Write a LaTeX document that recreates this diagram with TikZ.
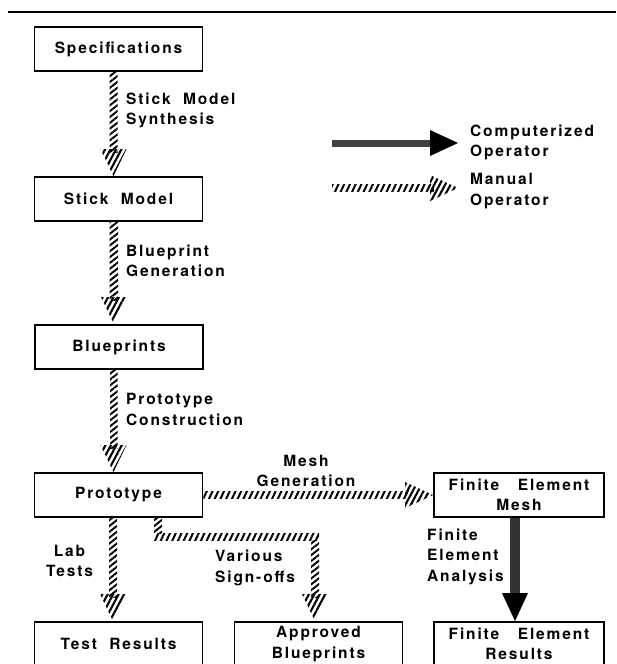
\documentclass[tikz,border=0pt]{standalone}
\usepackage{fontspec}
\newfontfamily\heros[LetterSpace=12]{TeX Gyre Heros}
\newcommand{\opfont}{\heros\bfseries\fontsize{15.5}{20.5}\selectfont}
\usetikzlibrary{calc,patterns.meta}
\tikzset{
  stage/.style={draw, line width=1.8pt, minimum width=168pt, minimum height=44pt,
    inner sep=0pt, align=center, font=\opfont},
  oplabel/.style={inner sep=0pt, align=left, anchor=west, font=\opfont},
  hatchv/.style={pattern={Lines[angle=38,distance=4.6pt,line width=1.9pt]}},
  hatchh/.style={pattern={Lines[angle=65,distance=5.2pt,line width=2pt]}},
  hatchtip/.style={pattern={Lines[angle=62,distance=4.8pt,line width=2.1pt]}},
}
% hatched (manual) and solid (computerized) operators, #1 = start, #2 = tip
\newcommand{\manualdown}[2]{%
\fill[hatchv] ($(#1)+(-4,0)$) rectangle ($(#2)+(4,-24)$);
\fill[hatchtip] ($(#2)+(-13,-27)$) -- (#2) -- ($(#2)+(13,-27)$) -- cycle;
}
\newcommand{\manualright}[2]{%
\fill[hatchh] ($(#1)+(0,-3.5)$) rectangle ($(#2)+(-24,3.5)$);
\fill[hatchtip] ($(#2)+(-28,-13)$) -- (#2) -- ($(#2)+(-28,13)$) -- cycle;
}
\newcommand{\computerdown}[2]{%
\fill[black!80] ($(#1)+(-5,0)$) rectangle ($(#2)+(5,-24)$);
\fill ($(#2)+(-13,-28)$) -- (#2) -- ($(#2)+(13,-28)$) -- cycle;
}
\newcommand{\computerright}[2]{%
\fill[black!75] ($(#1)+(0,-3.5)$) rectangle ($(#2)+(-24,3.5)$);
\fill ($(#2)+(-28,-13)$) -- (#2) -- ($(#2)+(-28,13)$) -- cycle;
}

\begin{document}
\begin{tikzpicture}[x=1pt,y=-1pt]
\useasboundingbox (0,0) rectangle (616,664);
\draw[line width=2pt] (8,12) -- (616,12);

%% stages
\node[stage] (spec)   at (118.5,49)  {Specifications};
\node[stage] (stick)  at (118.5,199) {Stick\ \ Model};
\node[stage] (blue)   at (119,347)   {Blueprints};
\node[stage] (proto)  at (118.5,495) {Prototype};
\node[stage] (test)   at (118.5,644) {Test\ \ Results};
\node[stage] (appr)   at (318.5,644) {Approved\\Blueprints};
\node[stage, minimum width=170pt] (femesh) at (519,495) {Finite\ \ \ Element\\Mesh};
\node[stage, minimum width=170pt] (feres)  at (519,644) {Finite\ \ \ Element\\Results};

%% operator labels
\node[oplabel] (synth)  at (126,110.5) {Stick\ \ Model\\Synthesis};
\node[oplabel] (bpgen)  at (126,261)   {Blueprint\\Generation};
\node[oplabel] (constr) at (126,409.5) {Prototype\\Construction};
\node[oplabel, anchor=center, align=center] (meshgen) at (306,471) {Mesh\\Generation};
\node[oplabel, anchor=center, align=center] (labt)    at (69.5,561) {Lab\\Tests};
\node[oplabel] (signoff) at (215,568)   {Various\\Sign-offs};
\node[oplabel] (fea)     at (427,556.5) {Finite\\Element\\Analysis};

%% legend
\coordinate (compA) at (332,143);
\coordinate (compB) at (458,143);
\coordinate (manA)  at (332,188);
\coordinate (manB)  at (458,188);
\node[oplabel] (legc) at (470,142.5) {Computerized\\Operator};
\node[oplabel] (legm) at (470,191)   {Manual\\Operator};
\computerright{compA}{compB}
\manualright{manA}{manB}

%% operators
\manualdown{[xshift=-5pt]spec.south}{[xshift=-5pt]stick.north}
\manualdown{[xshift=-5pt]stick.south}{[xshift=-5pt]blue.north}
\manualdown{[xshift=-5pt]blue.south}{[xshift=-5pt]proto.north}
\manualright{proto.east}{femesh.west}
\manualdown{[xshift=-5.5pt]proto.south}{[xshift=-5.5pt]test.north}
\computerdown{[xshift=-4pt]femesh.south}{[xshift=-4pt]feres.north}

% sign-off branch
\coordinate (sgA) at ([xshift=39.5pt]proto.south);
\coordinate (sgB) at (sgA |- 0,537);
\coordinate (sgC) at (315,537);
\fill[hatchv] ($(sgA)+(-4,0)$) rectangle ($(sgB)+(4,-3.5)$);
\fill[hatchh] ($(sgB)+(-4,-3.5)$) rectangle ($(sgC)+(4,3.5)$);
\manualdown{$(sgC)+(0,3.5)$}{[xshift=-3.5pt]appr.north}
\end{tikzpicture}
\end{document}
